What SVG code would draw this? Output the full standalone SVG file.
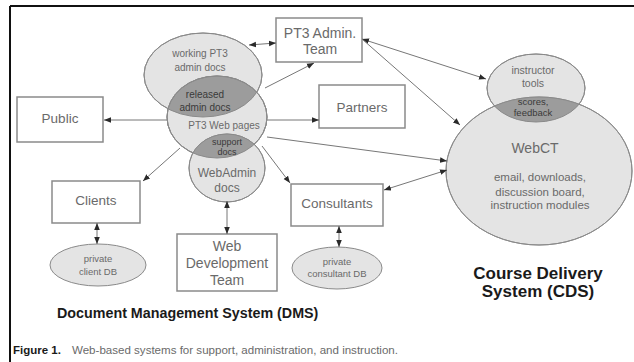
<svg xmlns="http://www.w3.org/2000/svg" width="634" height="362" viewBox="0 0 634 362">
<style>
.box{fill:#fff;stroke:#8a8a8a;stroke-width:1.5}
.ell{fill:#e4e4e4;stroke:#8a8a8a;stroke-width:1}
.dark{fill:#9c9c9c;stroke:none}
.ol{fill:none;stroke:#8a8a8a;stroke-width:1}
.t{font-family:"Liberation Sans",Arial,sans-serif;fill:#6a6a6a;text-anchor:middle}
.td{font-family:"Liberation Sans",Arial,sans-serif;fill:#3a3a3a;text-anchor:middle}
.cap{font-family:"Liberation Sans",Arial,sans-serif;fill:#6a6a6a;text-anchor:start}
.b{font-family:"Liberation Sans",Arial,sans-serif;fill:#1a1a1a;font-weight:bold}
.c{stroke:#777;stroke-width:1;fill:none}
</style>
<defs>
<marker id="ah" viewBox="0 0 10 10" refX="10" refY="5" markerWidth="7" markerHeight="7" markerUnits="userSpaceOnUse" orient="auto-start-reverse"><path d="M0,1 L10,5 L0,9 z" fill="#2a2a2a"/></marker>
<clipPath id="cE1"><ellipse cx="203" cy="75" rx="59" ry="42"/></clipPath>
<clipPath id="cE2"><ellipse cx="217" cy="117" rx="50" ry="41"/></clipPath>
<clipPath id="cE4"><ellipse cx="536" cy="88" rx="49" ry="34"/></clipPath>
</defs>
<g id="frame"><path d="M10,6 H634 M10,6 V362" stroke="#111" stroke-width="2" fill="none"/></g>

<g id="working-docs"><ellipse class="ell" cx="203" cy="75" rx="59" ry="42"/>
<text class="t" font-size="10" x="200" y="56.5">working PT3</text>
<text class="t" font-size="10" x="200" y="70.5">admin docs</text></g>
<g id="pt3-web"><ellipse class="ell" cx="217" cy="117" rx="50" ry="41"/>
<text class="t" font-size="10" x="224" y="128.5">PT3 Web pages</text></g>
<g id="released-docs"><ellipse class="dark" cx="217" cy="117" rx="50" ry="41" clip-path="url(#cE1)"/>
<ellipse class="ol" cx="203" cy="75" rx="59" ry="42"/><ellipse class="ol" cx="217" cy="117" rx="50" ry="41"/>
<text class="td" font-size="10" x="205" y="97.5">released</text>
<text class="td" font-size="10" x="205" y="110.5">admin docs</text></g>
<g id="webadmin"><ellipse class="ell" cx="227" cy="168" rx="38" ry="34"/>
<text class="t" font-size="12" x="227" y="177">WebAdmin</text>
<text class="t" font-size="12" x="227" y="192">docs</text></g>
<g id="support-docs"><ellipse class="dark" cx="227" cy="168" rx="38" ry="34" clip-path="url(#cE2)"/>
<ellipse class="ol" cx="217" cy="117" rx="50" ry="41"/><ellipse class="ol" cx="227" cy="168" rx="38" ry="34"/>
<text class="td" font-size="9" x="227" y="145">support</text>
<text class="td" font-size="9" x="227" y="155">docs</text></g>

<g id="instructor-tools"><ellipse class="ell" cx="536" cy="88" rx="49" ry="34"/>
<text class="t" font-size="10.5" x="533" y="74">instructor</text>
<text class="t" font-size="10.5" x="533" y="87">tools</text></g>
<g id="webct"><ellipse class="ell" cx="539" cy="171" rx="93" ry="74"/>
<text class="t" font-size="14" x="535" y="153">WebCT</text>
<text class="t" font-size="11.5" x="540" y="181">email, downloads,</text>
<text class="t" font-size="11.5" x="540" y="196">discussion board,</text>
<text class="t" font-size="11.5" x="540" y="209">instruction modules</text></g>
<g id="scores"><ellipse class="dark" cx="539" cy="171" rx="93" ry="74" clip-path="url(#cE4)"/>
<ellipse class="ol" cx="536" cy="88" rx="49" ry="34"/><ellipse class="ol" cx="539" cy="171" rx="93" ry="74"/>
<text class="td" font-size="9.5" x="533" y="105">scores,</text>
<text class="td" font-size="9.5" x="533" y="116">feedback</text></g>

<g id="pt3-admin"><rect class="box" x="276" y="18" width="86" height="44"/>
<text class="t" font-size="14" x="320" y="38">PT3 Admin.</text>
<text class="t" font-size="14" x="320" y="54">Team</text></g>
<g id="public"><rect class="box" x="17" y="97" width="86" height="45"/>
<text class="t" font-size="13.5" x="60" y="123">Public</text></g>
<g id="partners"><rect class="box" x="319" y="85" width="86" height="43"/>
<text class="t" font-size="13.5" x="362" y="112">Partners</text></g>
<g id="clients"><rect class="box" x="52" y="181" width="88" height="42"/>
<text class="t" font-size="13.5" x="96" y="205">Clients</text></g>
<g id="consultants"><rect class="box" x="291" y="184" width="92" height="42"/>
<text class="t" font-size="13.5" x="337" y="208">Consultants</text></g>
<g id="web-dev-team"><rect class="box" x="177" y="234" width="100" height="57"/>
<text class="t" font-size="14" x="227" y="251">Web</text>
<text class="t" font-size="14" x="227" y="268">Development</text>
<text class="t" font-size="14" x="227" y="285">Team</text></g>
<g id="client-db"><ellipse class="ell" cx="98" cy="265" rx="48" ry="21"/>
<text class="t" font-size="9.5" x="98" y="261.5">private</text>
<text class="t" font-size="9.5" x="98" y="274.5">client DB</text></g>
<g id="consultant-db"><ellipse class="ell" cx="337" cy="268" rx="45" ry="21"/>
<text class="t" font-size="9.5" x="337" y="264.5">private</text>
<text class="t" font-size="9.5" x="337" y="276.5">consultant DB</text></g>

<g id="connectors">
<line class="c" x1="249" y1="45" x2="276" y2="43" marker-start="url(#ah)" marker-end="url(#ah)"/>
<line class="c" x1="265" y1="88" x2="314" y2="63" marker-end="url(#ah)"/>
<line class="c" x1="167" y1="120" x2="104" y2="120" marker-end="url(#ah)"/>
<line class="c" x1="267" y1="120" x2="319" y2="120" marker-end="url(#ah)"/>
<line class="c" x1="180" y1="148" x2="143" y2="181" marker-end="url(#ah)"/>
<line class="c" x1="262" y1="146" x2="290" y2="183" marker-end="url(#ah)"/>
<line class="c" x1="267" y1="137" x2="447" y2="161" marker-end="url(#ah)"/>
<line class="c" x1="384" y1="190" x2="447" y2="170" marker-start="url(#ah)" marker-end="url(#ah)"/>
<line class="c" x1="362" y1="39" x2="486" y2="79" marker-start="url(#ah)" marker-end="url(#ah)"/>
<line class="c" x1="362" y1="39" x2="460" y2="125" marker-end="url(#ah)"/>
<line class="c" x1="97" y1="223" x2="97" y2="244" marker-start="url(#ah)" marker-end="url(#ah)"/>
<line class="c" x1="227" y1="201" x2="227" y2="234" marker-start="url(#ah)" marker-end="url(#ah)"/>
<line class="c" x1="339" y1="226" x2="339" y2="247" marker-start="url(#ah)" marker-end="url(#ah)"/>
</g>

<g id="titles">
<text class="b" font-size="17" x="538" y="279" text-anchor="middle">Course Delivery</text>
<text class="b" font-size="17" x="538" y="297" text-anchor="middle">System (CDS)</text>
<text class="b" font-size="14.3" x="57" y="318">Document Management System (DMS)</text>
<text class="b" font-size="11.5" x="13" y="354">Figure 1.</text>
<text class="cap" font-size="10.5" x="72" y="354" textLength="326" lengthAdjust="spacingAndGlyphs">Web-based systems for support, administration, and instruction.</text>
</g>
</svg>
